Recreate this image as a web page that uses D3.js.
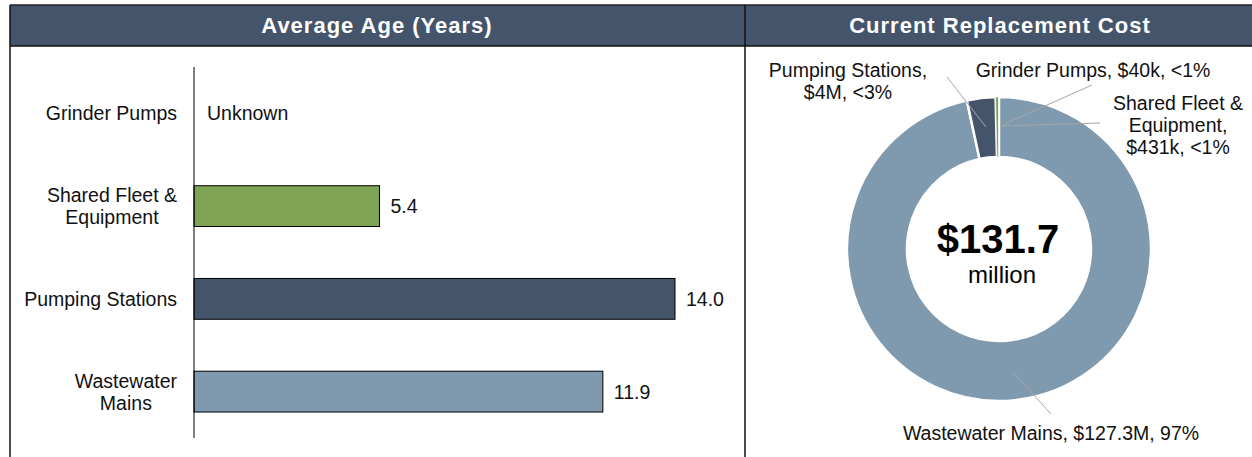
<!DOCTYPE html>
<html>
<head>
<meta charset="utf-8">
<script src="https://cdn.jsdelivr.net/npm/d3@7"></script>
<style>
  body { margin: 0; background: #fff; }
  svg { display: block; font-family: "Liberation Sans", Arial, sans-serif; }
</style>
</head>
<body>
<script>
// bar chart data (average age)
var ageCategories = ["Grinder Pumps", "Shared Fleet &\nEquipment", "Pumping Stations", "Wastewater\nMains"];
var ageValues = [null, 5.4, 14.0, 11.9];
var ageLabels = ["Unknown", "5.4", "14.0", "11.9"];
var ageColors = ["#ffffff", "#7fa354", "#44546a", "#7f99ae"];

// donut data (replacement cost, $M), clockwise from top
var costCategories = ["Wastewater Mains", "Pumping Stations", "Shared Fleet & Equipment", "Grinder Pumps"];
var costValues = [127.3, 4.0, 0.431, 0.04];
var costColors = ["#7f99ae", "#44546a", "#7fa354", "#c9d6b8"];
var costTotal = "$131.7";

var W = 1252, H = 457;
var headerFill = "#44546a";
var fs = 19.5;

var svg = d3.select("body").append("svg")
    .attr("width", W)
    .attr("height", H);

// panels / headers
var leftX = 10, divX = 745, topY = 5, headY = 46;
svg.append("rect").attr("x", leftX).attr("y", topY).attr("width", W - leftX).attr("height", headY - topY)
    .attr("fill", headerFill);
svg.append("line").attr("x1", leftX).attr("x2", W).attr("y1", topY).attr("y2", topY).attr("stroke", "#222").attr("stroke-width", 1.5);
svg.append("line").attr("x1", leftX).attr("x2", W).attr("y1", headY).attr("y2", headY).attr("stroke", "#111").attr("stroke-width", 1.5);
svg.append("line").attr("x1", leftX).attr("x2", leftX).attr("y1", topY).attr("y2", H).attr("stroke", "#111").attr("stroke-width", 1.5);
svg.append("line").attr("x1", divX).attr("x2", divX).attr("y1", topY).attr("y2", H).attr("stroke", "#111").attr("stroke-width", 1.5);

svg.append("text").attr("x", 377).attr("y", 33).attr("text-anchor", "middle")
    .attr("fill", "#fff").attr("font-weight", "bold").attr("font-size", 22).attr("letter-spacing", 1)
    .text("Average Age (Years)");
svg.append("text").attr("x", 1000).attr("y", 33).attr("text-anchor", "middle")
    .attr("fill", "#fff").attr("font-weight", "bold").attr("font-size", 22).attr("letter-spacing", 1)
    .text("Current Replacement Cost");

// ---- bar chart ----
var x = d3.scaleLinear().domain([0, 14]).range([194, 675]);
var y = d3.scaleBand().domain(ageCategories).range([67, 438]).paddingInner(0.56).paddingOuter(0.28);

var rows = ageCategories.map(function (c, i) { return { cat: c, v: ageValues[i], col: ageColors[i], lab: ageLabels[i] }; });

var bars = svg.append("g");
bars.selectAll("rect")
    .data(rows.filter(function (d) { return d.v != null; }))
    .enter().append("rect")
    .attr("x", x(0))
    .attr("y", function (d) { return y(d.cat); })
    .attr("width", function (d) { return x(d.v) - x(0); })
    .attr("height", y.bandwidth())
    .attr("fill", function (d) { return d.col; })
    .attr("stroke", "#000")
    .attr("stroke-width", 1);

bars.selectAll("text.val")
    .data(rows)
    .enter().append("text")
    .attr("class", "val")
    .attr("x", function (d) { return d.v == null ? x(0) + 13 : x(d.v) + 11; })
    .attr("y", function (d) { return y(d.cat) + y.bandwidth() / 2 + 7; })
    .attr("font-size", fs)
    .attr("fill", "#111")
    .text(function (d) { return d.lab; });

// category labels: block right-aligned, lines centred inside the block
var labelRight = 177;
ageCategories.forEach(function (c) {
    var lines = c.split("\n");
    var cy = y(c) + y.bandwidth() / 2;
    var t = svg.append("text")
        .attr("font-size", fs)
        .attr("fill", "#111")
        .attr("text-anchor", "middle");
    var spans = lines.map(function (l, k) {
        return t.append("tspan")
            .attr("y", cy + 7 + (k - (lines.length - 1) / 2) * 22)
            .text(l);
    });
    var maxW = d3.max(spans, function (s) { return s.node().getComputedTextLength(); });
    spans.forEach(function (s) { s.attr("x", labelRight - maxW / 2); });
});

// axis line
svg.append("line").attr("x1", x(0)).attr("x2", x(0)).attr("y1", 67).attr("y2", 438)
    .attr("stroke", "#000").attr("stroke-width", 1);

// ---- donut ----
var cx = 999, cy = 249, rOut = 152, rIn = 92;
var pie = d3.pie().sort(null).value(function (d) { return d; });
var arc = d3.arc().innerRadius(rIn).outerRadius(rOut);
var arcs = pie(costValues);

var donut = svg.append("g").attr("transform", "translate(" + cx + "," + cy + ")");
donut.selectAll("path")
    .data(arcs)
    .enter().append("path")
    .attr("d", arc)
    .attr("fill", function (d, i) { return costColors[i]; })
    .attr("stroke", "#fff")
    .attr("stroke-width", function (d, i) { return i >= 2 ? 0.6 : 2.5; });

// leader lines
var leaders = [
    [[1013, 372], [1051, 414]],
    [[947, 77], [986, 127]],
    [[1100, 123], [1000, 126]],
    [[1092, 85], [1000, 126]]
];
svg.selectAll("line.leader")
    .data(leaders)
    .enter().append("line")
    .attr("class", "leader")
    .attr("x1", function (d) { return d[0][0]; })
    .attr("y1", function (d) { return d[0][1]; })
    .attr("x2", function (d) { return d[1][0]; })
    .attr("y2", function (d) { return d[1][1]; })
    .attr("stroke", "#a6a6a6")
    .attr("stroke-width", 1);

var costLabels = [
    { lines: ["Wastewater Mains, $127.3M, 97%"], x: 1051, y: 440 },
    { lines: ["Pumping Stations,", "$4M, <3%"], x: 848, y: 77 },
    { lines: ["Shared Fleet &", "Equipment,", "$431k, <1%"], x: 1178, y: 110 },
    { lines: ["Grinder Pumps, $40k, <1%"], x: 1093, y: 77 }
];
costLabels.forEach(function (d) {
    var t = svg.append("text").attr("text-anchor", "middle").attr("font-size", fs).attr("fill", "#111");
    d.lines.forEach(function (l, k) {
        t.append("tspan").attr("x", d.x).attr("y", d.y + k * 22).text(l);
    });
});

// centre total
svg.append("text").attr("x", cx - 1).attr("y", 253).attr("text-anchor", "middle")
    .attr("font-size", 40).attr("font-weight", "bold").attr("fill", "#000").text(costTotal);
svg.append("text").attr("x", cx + 3).attr("y", 283).attr("text-anchor", "middle")
    .attr("font-size", 24).attr("fill", "#000").text("million");
</script>
</body>
</html>
